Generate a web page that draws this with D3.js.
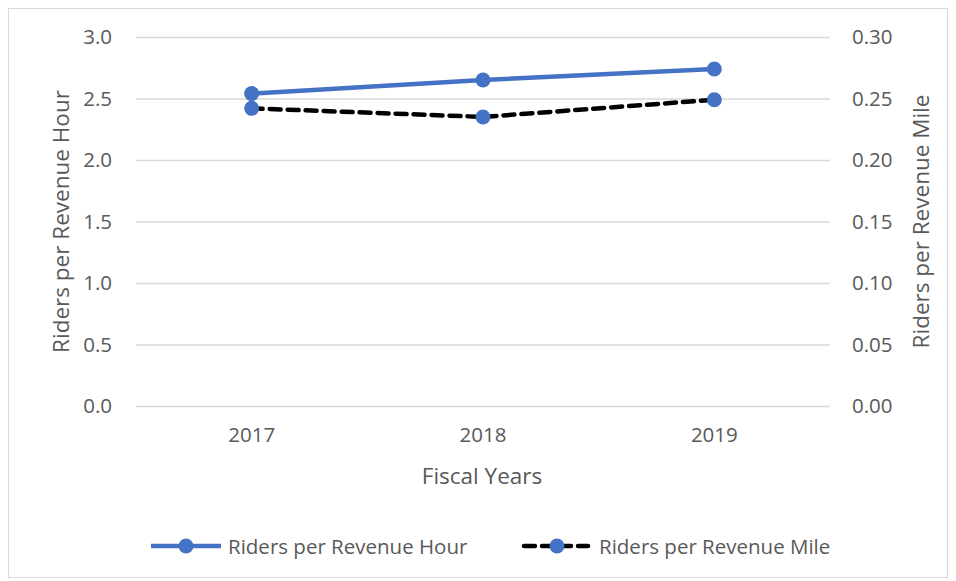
<!DOCTYPE html>
<html>
<head>
<meta charset="utf-8">
<script src="https://cdn.jsdelivr.net/npm/d3@7"></script>
<style>
  body { margin: 0; background: #fff; }
  svg text { font-family: "Open Sans", "Liberation Sans", sans-serif; fill: #595959; }
</style>
</head>
<body>
<div id="chart"></div>
<script>
const years = ["2017", "2018", "2019"];
const ridersPerHour = [2.54, 2.65, 2.74];
const ridersPerMile = [0.242, 0.235, 0.249];
const leftTicks = [0, 0.5, 1.0, 1.5, 2.0, 2.5, 3.0];
const rightTicks = [0, 0.05, 0.10, 0.15, 0.20, 0.25, 0.30];

const W = 956, H = 581;
const margin = {top: 37, right: 126, bottom: 175, left: 136};
const width = W - margin.left - margin.right,
      height = H - margin.top - margin.bottom;

const svg = d3.select("#chart").append("svg")
  .attr("width", W).attr("height", H);

// chart border
svg.append("rect")
  .attr("x", 8.5).attr("y", 8.5)
  .attr("width", 939).attr("height", 569)
  .attr("fill", "none").attr("stroke", "#d9d9d9");

const g = svg.append("g")
  .attr("transform", "translate(" + margin.left + "," + margin.top + ")");

const x = d3.scaleBand().domain(years).range([0, width]);
const yL = d3.scaleLinear().domain([0, 3]).range([height, 0]);
const yR = d3.scaleLinear().domain([0, 0.3]).range([height, 0]);

// gridlines
g.append("g")
  .call(d3.axisLeft(yL).tickValues(leftTicks).tickSize(-width).tickFormat(""))
  .call(a => a.select(".domain").remove())
  .call(a => a.selectAll("line").attr("stroke", "#d9d9d9").attr("stroke-width", 1.3));

// left tick labels
g.append("g")
  .call(d3.axisLeft(yL).tickValues(leftTicks).tickSize(0).tickPadding(24).tickFormat(d3.format(".1f")))
  .call(a => a.select(".domain").remove())
  .call(a => a.selectAll("text").style("font-size", "20.5px"));

// right tick labels
g.append("g")
  .attr("transform", "translate(" + width + ",0)")
  .call(d3.axisRight(yR).tickValues(rightTicks).tickSize(0).tickPadding(22).tickFormat(d3.format(".2f")))
  .call(a => a.select(".domain").remove())
  .call(a => a.selectAll("text").style("font-size", "20.5px"));

// x labels
g.append("g")
  .attr("transform", "translate(0," + height + ")")
  .call(d3.axisBottom(x).tickSize(0).tickPadding(21))
  .call(a => a.select(".domain").remove())
  .call(a => a.selectAll("text").style("font-size", "20.5px"));

// axis titles
svg.append("text")
  .attr("x", 482).attr("y", 484)
  .attr("text-anchor", "middle").style("font-size", "22.5px")
  .text("Fiscal Years");

svg.append("text")
  .attr("transform", "translate(69," + (margin.top + height / 2) + ") rotate(-90)")
  .attr("text-anchor", "middle").style("font-size", "22.5px")
  .text("Riders per Revenue Hour");

svg.append("text")
  .attr("transform", "translate(929," + (margin.top + height / 2) + ") rotate(-90)")
  .attr("text-anchor", "middle").style("font-size", "22.5px")
  .text("Riders per Revenue Mile");

const cx = d => x(d) + x.bandwidth() / 2;
const blue = "#4472C4";

// hour series
g.append("path")
  .datum(ridersPerHour)
  .attr("fill", "none").attr("stroke", blue).attr("stroke-width", 4.5)
  .attr("d", d3.line().x((d, i) => cx(years[i])).y(d => yL(d)));
g.append("g").selectAll("circle").data(ridersPerHour).enter().append("circle")
  .attr("cx", (d, i) => cx(years[i])).attr("cy", d => yL(d))
  .attr("r", 7.5).attr("fill", blue);

// mile series
g.append("path")
  .datum(ridersPerMile)
  .attr("fill", "none").attr("stroke", "#000").attr("stroke-width", 4.5)
  .attr("stroke-dasharray", "11,7").attr("stroke-linecap", "round")
  .attr("d", d3.line().x((d, i) => cx(years[i])).y(d => yR(d)));
g.append("g").selectAll("circle").data(ridersPerMile).enter().append("circle")
  .attr("cx", (d, i) => cx(years[i])).attr("cy", d => yR(d))
  .attr("r", 7.5).attr("fill", blue);

// legend
const legend = svg.append("g").attr("transform", "translate(0,546)");
legend.append("line").attr("x1", 151).attr("x2", 221)
  .attr("stroke", blue).attr("stroke-width", 4.5);
legend.append("circle").attr("cx", 186).attr("r", 7.5).attr("fill", blue);
legend.append("text").attr("x", 228).attr("y", 7.5).style("font-size", "20.5px")
  .text("Riders per Revenue Hour");

legend.append("line").attr("x1", 524).attr("x2", 588)
  .attr("stroke", "#000").attr("stroke-width", 4.5)
  .attr("stroke-dasharray", "11,7").attr("stroke-linecap", "round");
legend.append("circle").attr("cx", 557).attr("r", 7.5).attr("fill", blue);
legend.append("text").attr("x", 599).attr("y", 7.5).style("font-size", "20.5px")
  .text("Riders per Revenue Mile");
</script>
</body>
</html>
